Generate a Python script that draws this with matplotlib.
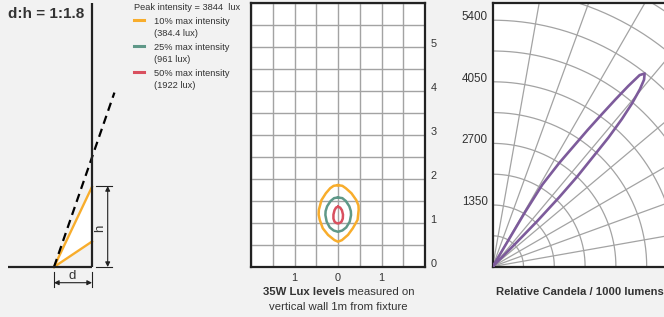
import numpy as np
import matplotlib
matplotlib.use("Agg")
import matplotlib.pyplot as plt
from matplotlib import font_manager as fm

# ---------------- data ----------------
# legend / labels
peak_lux = 3844
levels_pct = [10, 25, 50]
levels_lux = ["384.4", "961", "1922"]
level_colors = ["#f8ad2c", "#5f9888", "#d9505f"]

# Lux contours on the vertical wall (x: metres left/right, y: metres up)
c10_x = [0.0, 0.10, 0.18, 0.31, 0.42, 0.47, 0.475, 0.45, 0.34, 0.23, 0.09, 0.0,
         -0.08, -0.23, -0.35, -0.42, -0.445, -0.44, -0.38, -0.28, -0.18, -0.10, 0.0]
c10_y = [1.86, 1.845, 1.79, 1.675, 1.52, 1.40, 1.30, 1.07, 0.88, 0.73, 0.61, 0.575,
         0.61, 0.73, 0.88, 1.07, 1.19, 1.30, 1.52, 1.675, 1.79, 1.845, 1.86]
c25_x = [0.0, 0.10, 0.18, 0.26, 0.295, 0.30, 0.27, 0.19, 0.10, 0.0,
         -0.10, -0.19, -0.26, -0.29, -0.285, -0.25, -0.17, -0.09, 0.0]
c25_y = [1.58, 1.565, 1.50, 1.38, 1.27, 1.18, 1.03, 0.90, 0.83, 0.80,
         0.83, 0.90, 1.03, 1.18, 1.27, 1.38, 1.50, 1.565, 1.58]
c50_x = [0.0, 0.05, 0.09, 0.115, 0.11, 0.08, 0.04, 0.0, -0.04, -0.08, -0.105, -0.105, -0.08, -0.045, 0.0]
c50_y = [1.37, 1.35, 1.29, 1.19, 1.10, 1.03, 1.00, 0.99, 1.00, 1.03, 1.10, 1.19, 1.29, 1.35, 1.37]
wall_xticks = [-1, 0, 1]
wall_xlabels = ["1", "0", "1"]
wall_yticks = [0, 1, 2, 3, 4, 5]

# Candela lobe traced as (angle from floor in degrees, candela / 1000 lm),
# from the origin out along the lower edge, round the peak and back.
cd_angle = [51.8, 45.3, 45.6, 46.2, 46.8, 47.5, 48.1, 48.8, 49.5, 50.3, 51.0, 51.8,
            52.5, 53.1, 53.7, 54.4, 55.2, 56.1, 57.3, 58.8, 59.3, 59.3, 51.8]
cd_value = [0, 700, 1400, 2100, 2700, 3200, 3800, 4300, 4700, 5050, 5270, 5385,
            5290, 4950, 4550, 4100, 3650, 3170, 2700, 2100, 1400, 700, 0]
cd_ticks = [1350, 2700, 4050, 5400]

ratio_label = "d:h = 1:1.8"

# ---------------- style ----------------
names = {f.name for f in fm.fontManager.ttflist}
FONT = "Liberation Sans" if "Liberation Sans" in names else "DejaVu Sans"
plt.rcParams["font.family"] = [FONT, "DejaVu Sans"]

BG = "#f2f2f2"
INK = "#222222"
TXT = "#333333"
GRID = "#a3a3a3"
W, H = 664, 317

fig = plt.figure(figsize=(W / 100, H / 100), dpi=100, facecolor=BG)


def fx(px):
    return px / W


def fy(py):
    return 1 - py / H


# ---------------- left diagram ----------------
unit = 38.0  # px per d
ox, oy = 54.0, 267.0
ax0 = fig.add_axes([0, 0, 140 / W, 1])
ax0.set_xlim((0 - ox) / unit, (140 - ox) / unit)
ax0.set_ylim((oy - H) / unit, oy / unit)
ax0.axis("off")
ax0.patch.set_alpha(0)

beam_top, beam_low = 2.11, 0.67
ax0.fill([0, 1, 1], [0, beam_low, beam_top], color="white", zorder=1)
ax0.plot([1, 1], [0, (oy - 3) / unit], color=INK, lw=1.6, zorder=3, solid_capstyle="butt")
ax0.plot([(8 - ox) / unit, 1], [0, 0], color=INK, lw=1.6, zorder=3, solid_capstyle="butt")
ax0.plot([0, 1], [0, beam_top], color=level_colors[0], lw=1.7, zorder=2)
ax0.plot([0, 1], [0, beam_low], color=level_colors[0], lw=1.7, zorder=2)
ax0.plot([0, 1.59], [0, 4.59], color="black", lw=1.6, ls=(0, (3.8, 2.4)), zorder=2)
# h dimension
for yy in (0, beam_top + 0.02):
    ax0.plot([1.105, 1.52], [yy, yy], color=INK, lw=0.8)
ax0.annotate("", xy=(1.413, 0), xytext=(1.413, beam_top + 0.02),
             arrowprops=dict(arrowstyle="<|-|>", color=INK, lw=0.8, mutation_scale=7,
                             shrinkA=0, shrinkB=0))
ax0.text(1.21, 1.03, "h", rotation=90, ha="center", va="center", fontsize=9.5, color=TXT)
# d dimension
for xx in (0, 1):
    ax0.plot([xx, xx], [-0.13, -0.535], color=INK, lw=0.8)
ax0.annotate("", xy=(0, -0.413), xytext=(1, -0.413),
             arrowprops=dict(arrowstyle="<|-|>", color=INK, lw=0.8, mutation_scale=7,
                             shrinkA=0, shrinkB=0))
ax0.text(0.47, -0.24, "d", ha="center", va="center", fontsize=9.5, color=TXT)

fig.text(fx(8), fy(14), ratio_label, fontsize=11, fontweight="bold", color=TXT,
         ha="left", va="center")

# legend
fig.text(fx(134), fy(7), f"Peak intensity = {peak_lux}  lux", fontsize=6.7,
         ha="left", va="center", color=TXT)
for i, (p, lx, c) in enumerate(zip(levels_pct, levels_lux, level_colors)):
    yl = 20 + 26.2 * i
    fig.add_artist(plt.Line2D([fx(134), fx(144)], [fy(yl), fy(yl)], color=c, lw=2.2))
    fig.text(fx(153.5), fy(yl + 1), f"{p}% max intensity", fontsize=6.7, ha="left",
             va="center", color=TXT)
    fig.text(fx(153.5), fy(yl + 13.6), f"({lx} lux)", fontsize=6.7, ha="left",
             va="center", color=TXT)

# ---------------- middle: lux on wall ----------------
ax1 = fig.add_axes([fx(251), fy(267), 174 / W, 264 / H])
ax1.set_facecolor("white")
ax1.set_xlim(-2, 2)
ax1.set_ylim(0, 6)
ax1.set_xticks(wall_xticks)
ax1.set_xticklabels(wall_xlabels)
ax1.set_xticks(np.arange(-2, 2.01, 0.5), minor=True)
ax1.set_yticks(wall_yticks)
ax1.set_yticks(np.arange(0, 6.01, 0.5), minor=True)
ax1.yaxis.tick_right()
ax1.tick_params(which="both", length=0)
ax1.tick_params(axis="x", pad=4, labelsize=7.8, labelcolor=TXT)
ax1.tick_params(axis="y", pad=4, labelsize=7.8, labelcolor=TXT)
for lab in ax1.get_yticklabels():
    lab.set_va("baseline")
ax1.grid(True, which="both", color=GRID, lw=1.0)
ax1.set_axisbelow(True)
for s in ax1.spines.values():
    s.set_color(INK)
    s.set_linewidth(1.6)
for cx, cy, c in [(c10_x, c10_y, level_colors[0]), (c25_x, c25_y, level_colors[1]),
                  (c50_x, c50_y, level_colors[2])]:
    ax1.plot(cx, cy, color=c, lw=1.8, solid_joinstyle="round")

fig.text(fx(345), fy(292), "35W Lux levels", fontsize=8.2, fontweight="bold", ha="right",
         va="center", color=TXT)
fig.text(fx(347.5), fy(292), "measured on", fontsize=8.2, ha="left", va="center",
         color=TXT)
fig.text(fx(338), fy(306.5), "vertical wall 1m from fixture", fontsize=8.2, ha="center",
         va="center", color=TXT)

# ---------------- right: candela ----------------
upx = 675 / 30.8  # candela per pixel
ax_w_px = 700 - 492.7
ax_h_px = 266.6 - 3
ax2 = fig.add_axes([fx(492.7), fy(266.6), ax_w_px / W, ax_h_px / H])
ax2.set_facecolor("white")
ax2.set_xlim(0, ax_w_px * upx)
ax2.set_ylim(0, ax_h_px * upx)
th = np.linspace(0, np.pi / 2, 200)
for k in range(1, 12):
    r = 675 * k
    ax2.plot(r * np.cos(th), r * np.sin(th), color=GRID, lw=0.9, zorder=1)
for a in range(10, 90, 10):
    ar = np.deg2rad(a)
    ax2.plot([0, 9000 * np.cos(ar)], [0, 9000 * np.sin(ar)], color=GRID, lw=0.9, zorder=1)
ang = np.deg2rad(np.array(cd_angle))
val = np.array(cd_value)
ax2.plot(val * np.cos(ang), val * np.sin(ang), color="#7d5b9b", lw=1.9, zorder=3,
         solid_joinstyle="round")
ax2.set_xticks([])
ax2.set_yticks(cd_ticks)
ax2.set_yticklabels([str(t) for t in cd_ticks])
ax2.tick_params(axis="y", length=0, pad=3.5, labelsize=8.4, labelcolor=TXT)
for lab in ax2.get_yticklabels():
    lab.set_va("baseline")
for s in ax2.spines.values():
    s.set_color(INK)
    s.set_linewidth(1.6)

fig.text(fx(579.5), fy(292), "Relative Candela / 1000 lumens", fontsize=8.1,
         fontweight="bold", ha="center", va="center", color=TXT)

fig.savefig("out.png", dpi=100, facecolor=BG)
